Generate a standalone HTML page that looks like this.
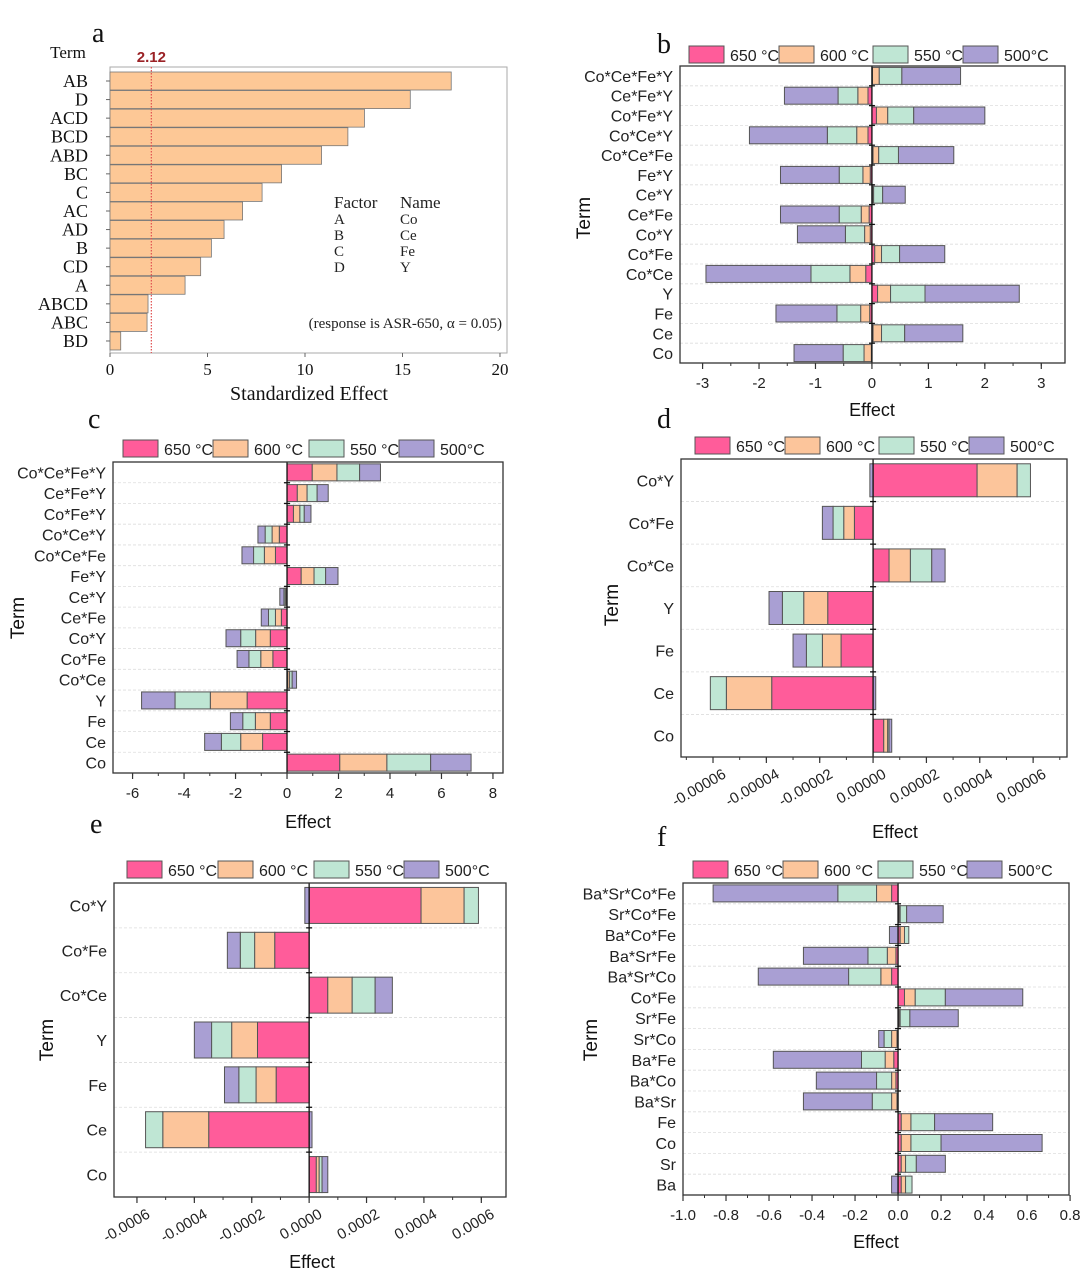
<!DOCTYPE html>
<html><head><meta charset="utf-8"><style>
html,body{margin:0;padding:0;background:#fff;}
svg{display:block;font-family:"Liberation Sans",Arial,sans-serif;}
</style></head><body>
<svg id="fig" width="1080" height="1274" viewBox="0 0 1080 1274" xmlns="http://www.w3.org/2000/svg"></svg>
<script>
// ---------- Panel a (Pareto) ----------
const aTerms=["AB","D","ACD","BCD","ABD","BC","C","AC","AD","B","CD","A","ABCD","ABC","BD"];
const aValues=[17.5,15.4,13.05,12.2,10.85,8.8,7.8,6.8,5.85,5.2,4.65,3.85,1.95,1.9,0.55];
const aTicks=[0,5,10,15,20];
const aCrit=2.12;
// ---------- Panel b ----------
const bTerms=["Co*Ce*Fe*Y","Ce*Fe*Y","Co*Fe*Y","Co*Ce*Y","Co*Ce*Fe","Fe*Y","Ce*Y","Ce*Fe","Co*Y","Co*Fe","Co*Ce","Y","Fe","Ce","Co"];
const b650=[0.01,-0.07,0.08,-0.07,0.02,-0.03,0.01,-0.05,-0.03,0.05,-0.11,0.10,-0.04,0.02,-0.01];
const b600=[0.12,-0.18,0.20,-0.20,0.10,-0.13,0.02,-0.14,-0.10,0.12,-0.28,0.23,-0.16,0.15,-0.13];
const b550=[0.40,-0.35,0.46,-0.52,0.35,-0.42,0.16,-0.39,-0.34,0.32,-0.69,0.61,-0.42,0.41,-0.37];
const b500=[1.04,-0.95,1.26,-1.38,0.98,-1.04,0.40,-1.04,-0.85,0.80,-1.86,1.67,-1.08,1.03,-0.87];
const bTicks=[-3,-2,-1,0,1,2,3];
// ---------- Panel c ----------
const cTerms=bTerms;
const c650=[0.98,0.40,0.25,-0.30,-0.45,0.55,-0.03,-0.22,-0.65,-0.55,0.03,-1.55,-0.65,-0.95,2.05];
const c600=[0.96,0.38,0.25,-0.28,-0.43,0.50,-0.04,-0.23,-0.57,-0.47,0.07,-1.43,-0.58,-0.85,1.83];
const c550=[0.88,0.39,0.17,-0.27,-0.42,0.45,-0.05,-0.27,-0.58,-0.46,0.10,-1.37,-0.49,-0.75,1.70];
const c500=[0.81,0.43,0.26,-0.28,-0.45,0.48,-0.16,-0.28,-0.57,-0.46,0.17,-1.30,-0.48,-0.65,1.57];
const cTicks=[-6,-4,-2,0,2,4,6,8];
// ---------- Panel d (x1e-5) ----------
const dTerms=["Co*Y","Co*Fe","Co*Ce","Y","Fe","Ce","Co"];
const d650=[3.9,-0.7,0.6,-1.7,-1.2,-3.8,0.4];
const d600=[1.5,-0.4,0.8,-0.9,-0.7,-1.7,0.15];
const d550=[0.5,-0.4,0.8,-0.8,-0.6,-0.6,0.05];
const d500=[-0.12,-0.4,0.5,-0.5,-0.5,0.1,0.1];
const dTicks=[-6,-4,-2,0,2,4,6];
const dTickLabels=["-0.00006","-0.00004","-0.00002","0.00000","0.00002","0.00004","0.00006"];
// ---------- Panel e (x1e-4) ----------
const eTerms=dTerms;
const e650=[3.9,-1.2,0.65,-1.8,-1.15,-3.5,0.25];
const e600=[1.5,-0.7,0.85,-0.9,-0.7,-1.6,0.1];
const e550=[0.5,-0.5,0.8,-0.7,-0.6,-0.6,0.1];
const e500=[-0.15,-0.45,0.6,-0.6,-0.5,0.1,0.2];
const eTicks=[-6,-4,-2,0,2,4,6];
const eTickLabels=["-0.0006","-0.0004","-0.0002","0.0000","0.0002","0.0004","0.0006"];
// ---------- Panel f ----------
const fTerms=["Ba*Sr*Co*Fe","Sr*Co*Fe","Ba*Co*Fe","Ba*Sr*Fe","Ba*Sr*Co","Co*Fe","Sr*Fe","Sr*Co","Ba*Fe","Ba*Co","Ba*Sr","Fe","Co","Sr","Ba"];
const f650=[-0.03,0.005,0.01,-0.01,-0.03,0.03,0.005,-0.005,-0.02,-0.01,-0.005,0.015,0.015,0.015,0.015];
const f600=[-0.07,0.005,0.02,-0.04,-0.05,0.05,0.005,-0.025,-0.04,-0.02,-0.025,0.045,0.045,0.02,0.02];
const f550=[-0.18,0.03,0.02,-0.09,-0.15,0.14,0.045,-0.035,-0.11,-0.07,-0.09,0.11,0.14,0.05,0.03];
const f500=[-0.58,0.17,-0.04,-0.30,-0.42,0.36,0.225,-0.025,-0.41,-0.28,-0.32,0.27,0.47,0.135,-0.03];
const fTicks=[-1.0,-0.8,-0.6,-0.4,-0.2,0.0,0.2,0.4,0.6,0.8];

const colors=["#ff5c9a","#fcc59b","#bfe6d4","#a99fd3"];
const legendNames=["650 °C","600 °C","550 °C","500°C"];
const NS="http://www.w3.org/2000/svg";
const svg=document.getElementById('fig');
function el(tag,attrs,parent,text){const e=document.createElementNS(NS,tag);for(const k in attrs)e.setAttribute(k,attrs[k]);if(text!==undefined)e.textContent=text;(parent||svg).appendChild(e);return e;}

function stackedPanel(c){
  const g=el('g',{});
  
  
  const sx=v=>c.x0+(v-c.dmin)/(c.dmax-c.dmin)*(c.x1-c.x0);
  const n=c.terms.length, step=(c.y1-c.y0)/n;
  for(let i=1;i<n;i++){const y=c.y0+i*step;
    const gl=el('line',{x1:c.x0,x2:c.x1,y1:y,y2:y,stroke:'#ddd','stroke-width':0.8,'stroke-dasharray':'3,2'},g);
    
    }
  for(let i=0;i<n;i++){
    const cy=c.y0+(i+0.5)*step; let pos=0,neg=0;
    for(let k=0;k<4;k++){
      const v=c.series[k][i]; let a,b;
      if(v>=0){a=pos;b=pos+v;pos=b;}else{b=neg;a=neg+v;neg=a;}
      const r=el('rect',{x:sx(a),y:cy-c.barH/2,width:Math.max(0.5,sx(b)-sx(a)),height:c.barH,fill:colors[k],stroke:'#555','stroke-width':1},g);
      
      
    }
    const lab=el('text',{x:c.x0-7,y:cy+6,'text-anchor':'end','font-size':c.fs,fill:'#222'},g,c.terms[i]);
    
    
  }
  const zx=sx(0);
  el('line',{x1:zx,x2:zx,y1:c.y0,y2:c.y1,stroke:'#111','stroke-width':1.3},g);
  for(let i=1;i<n;i++){const y=c.y0+i*step;el('line',{x1:zx-3,x2:zx+3,y1:y,y2:y,stroke:'#111','stroke-width':1.3},g);}
  const fr=el('rect',{x:c.x0,y:c.y0,width:c.x1-c.x0,height:c.y1-c.y0,fill:'none',stroke:'#333','stroke-width':1.3},g);
  
  
  const minorStep=(c.ticks[1]-c.ticks[0])/c.minor;
  for(let t=c.ticks[0]-minorStep*c.minor;t<=c.dmax+1e-9;t+=minorStep){
    if(t<c.dmin-1e-9)continue;const x=sx(t);
    el('line',{x1:x,x2:x,y1:c.y1,y2:c.y1+3,stroke:'#333','stroke-width':1},g);}
  c.ticks.forEach((t,j)=>{const x=sx(t);
    el('line',{x1:x,x2:x,y1:c.y1,y2:c.y1+6,stroke:'#333','stroke-width':1.2},g);
    const lbl=c.tickLabels?c.tickLabels[j]:String(t);
    let tx;
    if(c.rot){tx=el('text',{x:x+14,y:c.y1+20,'text-anchor':'end','font-size':15,fill:'#222',transform:`rotate(-30 ${x+14} ${c.y1+20})`},g,lbl);}
    else tx=el('text',{x:x,y:c.y1+25,'text-anchor':'middle','font-size':15,fill:'#222'},g,c.fixed?t.toFixed(1):lbl);
    
    
  });
  const xt=el('text',{x:c.xt[0],y:c.xt[1],'text-anchor':'middle','font-size':18,fill:'#111'},g,'Effect');
  
  
  const yt=el('text',{x:c.yt[0],y:c.yt[1],'text-anchor':'middle','font-size':19,fill:'#111',transform:`rotate(-90 ${c.yt[0]} ${c.yt[1]})`},g,'Term');
  
  
  c.leg.forEach((lx,k)=>{
    const sw=el('rect',{x:lx,y:c.legY,width:35,height:17,fill:colors[k],stroke:'#555','stroke-width':1},g);
    
    
    const lt=el('text',{x:lx+41,y:c.legY+15,'font-size':16,fill:'#222'},g,legendNames[k]);
    
    
  });
  const pl=el('text',{x:c.pl[0],y:c.pl[1],'font-size':28,'font-family':'"Liberation Serif",serif',fill:'#111'},g,c.plabel);
  
  
}

(function(){
  const g=el('g',{});
  
  
  const x0=110,x1=507,y0=67,y1=353,dmax=20.36;
  const sx=v=>x0+v/dmax*(x1-x0);
  const serif='"Liberation Serif",serif';
  el('rect',{x:x0,y:y0,width:x1-x0,height:y1-y0,fill:'none',stroke:'#aaa','stroke-width':1},g);
  aTerms.forEach((t,i)=>{const cy=81+i*18.57;
    const r=el('rect',{x:x0,y:cy-9,width:sx(aValues[i])-x0,height:18,fill:'#fdc896',stroke:'#777','stroke-width':0.8},g);
    
    
    el('line',{x1:x0-4,x2:x0,y1:cy,y2:cy,stroke:'#666'},g);
    const l=el('text',{x:88,y:cy+6,'text-anchor':'end','font-size':18,'font-family':serif,fill:'#111'},g,t);
    
    
  });
  const cx=sx(aCrit);
  const rl=el('line',{x1:cx,x2:cx,y1:y0,y2:y1,stroke:'#e05050','stroke-width':1.2,'stroke-dasharray':'1.5,1.5'},g);
  
  
  const cl=el('text',{x:cx,y:62,'text-anchor':'middle','font-size':15,'font-weight':'bold',fill:'#9b2226'},g,aCrit.toFixed(2));
  
  
  aTicks.forEach(t=>{const x=sx(t);el('line',{x1:x,x2:x,y1:y1,y2:y1+4,stroke:'#666'},g);
    const tl=el('text',{x:x,y:375,'text-anchor':'middle','font-size':17,'font-family':serif,fill:'#111'},g,String(t));
    
    });
  const xt=el('text',{x:309,y:400,'text-anchor':'middle','font-size':20,'font-family':serif,fill:'#111'},g,'Standardized Effect');
  
  
  const tt=el('text',{x:68,y:58,'text-anchor':'middle','font-size':17,'font-family':serif,fill:'#111'},g,'Term');
  
  
  const fac=[["Factor","Name"],["A","Co"],["B","Ce"],["C","Fe"],["D","Y"]];
  fac.forEach((r,i)=>{const y=i===0?208:224+(i-1)*16;const fs=i===0?17:15;
    el('text',{x:334,y:y,'font-size':fs,'font-family':serif,fill:'#222'},g,r[0]);
    el('text',{x:400,y:y,'font-size':fs,'font-family':serif,fill:'#222'},g,r[1]);});
  const rs=el('text',{x:502,y:328,'text-anchor':'end','font-size':15,'font-family':serif,fill:'#222'},g,'(response is ASR-650, α = 0.05)');
  
  
  el('text',{x:92,y:42,'font-size':28,'font-family':serif,fill:'#111'},g,'a');
})();

stackedPanel({name:'panel-b',plabel:'b',pl:[657,53],terms:bTerms,series:[b650,b600,b550,b500],x0:680,x1:1065,y0:66,y1:363,dmin:-3.4,dmax:3.42,barH:17,fs:16,ticks:bTicks,minor:2,xt:[872,416],yt:[590,218],leg:[689,779,873,963],legY:46});
stackedPanel({name:'panel-c',plabel:'c',pl:[88,428],terms:cTerms,series:[c650,c600,c550,c500],x0:113,x1:503,y0:462,y1:773,dmin:-6.76,dmax:8.39,barH:17,fs:16,ticks:cTicks,minor:2,xt:[308,828],yt:[24,618],leg:[123,213,309,399],legY:440});
stackedPanel({name:'panel-d',plabel:'d',pl:[657,428],terms:dTerms,series:[d650,d600,d550,d500],x0:681,x1:1067,y0:459,y1:757,dmin:-7.2,dmax:7.27,barH:33,fs:16,ticks:dTicks,tickLabels:dTickLabels,minor:2,rot:true,xt:[895,838],yt:[618,605],leg:[695,785,879,969],legY:437});
stackedPanel({name:'panel-e',plabel:'e',pl:[90,833],terms:eTerms,series:[e650,e600,e550,e500],x0:114,x1:506,y0:883,y1:1197,dmin:-6.8,dmax:6.86,barH:36,fs:16,ticks:eTicks,tickLabels:eTickLabels,minor:2,rot:true,xt:[312,1268],yt:[53,1040],leg:[127,218,314,404],legY:861});
stackedPanel({name:'panel-f',plabel:'f',pl:[657,846],terms:fTerms,series:[f650,f600,f550,f500],x0:683,x1:1069,y0:883,y1:1195,dmin:-1.0,dmax:0.795,barH:17,fs:16,ticks:fTicks,fixed:true,minor:2,xt:[876,1248],yt:[597,1040],leg:[693,783,878,967],legY:861});
</script>
</body></html>
